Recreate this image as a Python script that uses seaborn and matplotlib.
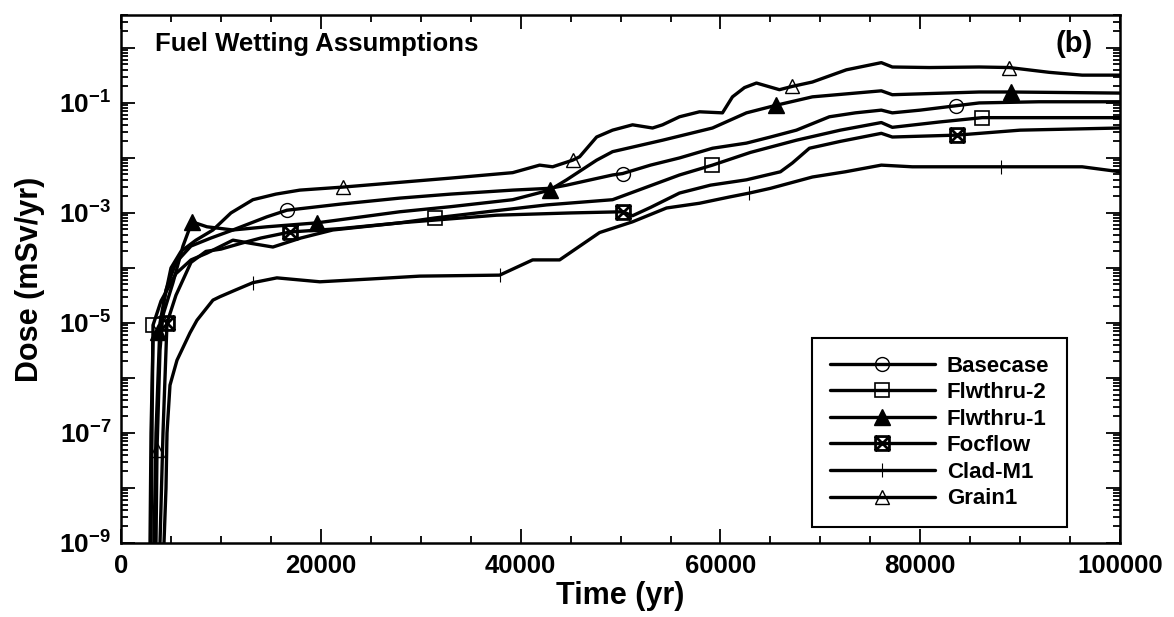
import numpy as np
import pandas as pd
import seaborn as sns
import matplotlib
matplotlib.use("Agg")
from matplotlib import pyplot as plt
from matplotlib.path import Path
from matplotlib.ticker import LogLocator, FuncFormatter, MultipleLocator, NullFormatter

# dose curves (time in yr, dose in mSv/yr)
base_x = [3300, 3500, 3900, 4500, 5500, 7000, 9000, 11200, 14600, 16600, 22000, 27900, 33000,
          39200, 42900, 44600, 47000, 49200, 50200, 53000, 55900, 59200, 62600, 65000, 67600,
          70900, 73500, 76100, 77200, 80000, 83600, 85900, 91900, 100000]
base_y = [1e-9, 1e-7, 1e-5, 4e-5, 1.26e-4, 2.5e-4, 3.5e-4, 4.9e-4, 8.5e-4, 1.12e-3, 1.45e-3,
          1.86e-3, 2.2e-3, 2.6e-3, 2.8e-3, 3.2e-3, 4.0e-3, 4.9e-3, 5.2e-3, 7.4e-3, 1e-2, 1.5e-2,
          1.86e-2, 2.4e-2, 3.2e-2, 5.6e-2, 6.6e-2, 7.4e-2, 6.6e-2, 7.4e-2, 8.9e-2, 0.1, 0.105, 0.105]
base_mk = [2, 9, 18, 30]

fl2_x = [3000, 3100, 3200, 4000, 5500, 7000, 8600, 11200, 13000, 15200, 18000, 21200, 27900,
         31400, 37000, 42600, 49200, 55900, 59200, 63000, 67600, 72000, 76100, 77200, 81900,
         86200, 100000]
fl2_y = [1e-9, 1e-7, 9.1e-6, 2.5e-5, 7.9e-5, 1.4e-4, 1.86e-4, 3.2e-4, 2.8e-4, 2.4e-4, 3.5e-4,
         4.9e-4, 6.6e-4, 8.1e-4, 1.07e-3, 1.4e-3, 1.74e-3, 4.9e-3, 7.4e-3, 1.26e-2, 2.1e-2,
         3.2e-2, 4.4e-2, 3.6e-2, 4.5e-2, 5.4e-2, 5.4e-2]
fl2_mk = [2, 13, 18, 25]

fl1_x = [2900, 3000, 3200, 3700, 4300, 5200, 6200, 7100, 8600, 11200, 14600, 19600, 27900,
         33000, 39200, 42900, 44600, 47600, 49200, 54200, 59200, 62600, 65600, 69200, 76100,
         77200, 85900, 89100, 100000]
fl1_y = [1e-9, 1e-7, 5e-6, 6.9e-6, 1.6e-5, 5.4e-5, 2.5e-4, 6.9e-4, 5.6e-4, 4.9e-4, 5.6e-4,
         6.6e-4, 1.05e-3, 1.3e-3, 1.74e-3, 2.6e-3, 4e-3, 9.1e-3, 1.3e-2, 2.1e-2, 3.5e-2, 6.6e-2,
         9.1e-2, 0.129, 0.166, 0.141, 0.158, 0.158, 0.151]
fl1_mk = [3, 7, 11, 15, 22, 27]

foc_x = [3900, 4200, 4600, 5500, 7000, 8500, 10000, 12000, 14000, 16900, 22000, 27900, 37600,
         45000, 50200, 51200, 53000, 55900, 59000, 62600, 66000, 67200, 68900, 72000, 76100,
         77200, 83700, 90000, 100000]
foc_y = [1e-9, 1e-7, 1e-5, 3.2e-5, 1.26e-4, 2e-4, 2.2e-4, 2.8e-4, 3.5e-4, 4.5e-4, 5.2e-4,
         6.6e-4, 9.1e-4, 1e-3, 1.05e-3, 8.9e-4, 1.26e-3, 2.3e-3, 3.2e-3, 4e-3, 5.6e-3, 8.1e-3,
         1.5e-2, 2e-2, 2.8e-2, 2.4e-2, 2.6e-2, 3.2e-2, 3.5e-2]
foc_mk = [2, 9, 14, 26]

clad_x = [4300, 4500, 4600, 4900, 5600, 6900, 7600, 9200, 9900, 11500, 13200, 15600, 19900,
          25000, 29900, 37900, 41200, 43900, 47900, 51200, 54600, 57900, 60900, 62900, 65000,
          69200, 72500, 76100, 79200, 88100, 96200, 100000]
clad_y = [1e-9, 1e-8, 1e-7, 7.4e-7, 2.1e-6, 6.6e-6, 1.12e-5, 2.6e-5, 3e-5, 4e-5, 5.4e-5,
          6.6e-5, 5.6e-5, 6.3e-5, 7.1e-5, 7.4e-5, 1.4e-4, 1.4e-4, 4.4e-4, 6.9e-4, 1.23e-3,
          1.5e-3, 1.95e-3, 2.3e-3, 2.8e-3, 4.5e-3, 5.6e-3, 7.4e-3, 6.9e-3, 6.9e-3, 6.9e-3, 5.6e-3]
clad_mk = [2, 10, 15, 23, 29]

grain_x = [3500, 3600, 3900, 4300, 5000, 6000, 7500, 9200, 11000, 13200, 15500, 17900, 22200,
           27900, 33000, 39200, 41900, 43200, 45200, 45900, 47600, 49200, 51200, 53200, 54200,
           55900, 57900, 60200, 61200, 62400, 63600, 65900, 67200, 69200, 72600, 76100, 77200,
           80900, 85900, 88900, 92900, 96200, 100000]
grain_y = [1e-9, 5e-8, 3.2e-6, 2.5e-5, 1e-4, 2e-4, 3.2e-4, 4.9e-4, 1e-3, 1.74e-3, 2.2e-3,
           2.6e-3, 2.95e-3, 3.6e-3, 4.3e-3, 5.4e-3, 7.4e-3, 6.9e-3, 9.1e-3, 1.05e-2, 2.4e-2,
           3.2e-2, 4.0e-2, 3.5e-2, 4.0e-2, 5.6e-2, 6.9e-2, 6.6e-2, 0.129, 0.19, 0.23, 0.174, 0.2,
           0.24, 0.40, 0.54, 0.45, 0.44, 0.45, 0.44, 0.36, 0.32, 0.32]
grain_mk = [1, 12, 18, 32, 39]

labels = ["Basecase", "Flwthru-2", "Flwthru-1", "Focflow", "Clad-M1", "Grain1"]

sns.set_style("ticks")
plt.rcParams["font.family"] = ["Liberation Sans", "DejaVu Sans"]
plt.rcParams["font.weight"] = "bold"
plt.rcParams["text.color"] = "black"
plt.rcParams["axes.labelcolor"] = "black"
plt.rcParams["xtick.color"] = "black"
plt.rcParams["ytick.color"] = "black"
plt.rcParams["mathtext.fontset"] = "custom"
plt.rcParams["mathtext.rm"] = "Liberation Sans:bold"
plt.rcParams["mathtext.bf"] = "Liberation Sans:bold"

# square with an X through it for Focflow
box_x = Path([(-1, -1), (1, -1), (1, 1), (-1, 1), (-1, -1), (-1, -1), (1, 1), (-1, 1), (1, -1)],
             [Path.MOVETO, Path.LINETO, Path.LINETO, Path.LINETO, Path.CLOSEPOLY,
              Path.MOVETO, Path.LINETO, Path.MOVETO, Path.LINETO])

series = [
    (base_x, base_y, base_mk, dict(marker="o", markersize=10, markerfacecolor="none", markeredgewidth=1.0)),
    (fl2_x, fl2_y, fl2_mk, dict(marker="s", markersize=10, markerfacecolor="none", markeredgewidth=1.2)),
    (fl1_x, fl1_y, fl1_mk, dict(marker="^", markersize=11, markerfacecolor="black", markeredgewidth=1.0)),
    (foc_x, foc_y, foc_mk, dict(marker=box_x, markersize=10, markerfacecolor="none", markeredgewidth=2.0)),
    (clad_x, clad_y, clad_mk, dict(marker="|", markersize=10, markeredgewidth=0.8)),
    (grain_x, grain_y, grain_mk, dict(marker="^", markersize=10, markerfacecolor="none", markeredgewidth=1.0)),
]

fig = plt.figure(figsize=(11.74, 6.17), dpi=100)
ax = fig.add_axes([0.1031, 0.12, 0.851, 0.856])
ax.set_yscale("log")

for (xs, ys, mk, style), lab in zip(series, labels):
    df = pd.DataFrame({"t": xs, "dose": ys})
    sns.lineplot(data=df, x="t", y="dose", ax=ax, color="black", linewidth=2.4,
                 markevery=mk, markeredgecolor="black", label=lab,
                 estimator=None, errorbar=None, sort=False, **style)

ax.set_xlim(0, 100000)
ax.set_ylim(1e-9, 4)

ax.xaxis.set_major_locator(MultipleLocator(20000))
ax.xaxis.set_minor_locator(MultipleLocator(5000))
ax.xaxis.set_major_formatter(FuncFormatter(lambda v, p: "%d" % v))

ax.yaxis.set_major_locator(LogLocator(base=10, numticks=30))
ax.yaxis.set_minor_locator(LogLocator(base=10, subs=np.arange(2, 10), numticks=30))
ax.yaxis.set_minor_formatter(NullFormatter())


def ylab(v, p):
    e = int(round(np.log10(v)))
    if e % 2 == 0:
        return ""
    return r"$\mathbf{10^{%d}}$" % e


ax.yaxis.set_major_formatter(FuncFormatter(ylab))

ax.tick_params(which="both", direction="in", top=True, right=True, width=1.3, color="black")
ax.tick_params(which="major", length=10)
ax.tick_params(which="minor", length=5)
ax.tick_params(axis="x", labelsize=18.5, pad=8)
ax.tick_params(axis="y", labelsize=19, pad=7)
for lbl in ax.get_xticklabels():
    lbl.set_fontweight("bold")
for sp in ax.spines.values():
    sp.set_linewidth(1.8)
    sp.set_color("black")

ax.set_xlabel("Time (yr)", fontsize=22, fontweight="bold", labelpad=2)
ax.set_ylabel("Dose (mSv/yr)", fontsize=22, fontweight="bold")
ax.yaxis.set_label_coords(-0.076, 0.5)

ax.text(0.034, 0.967, "Fuel Wetting Assumptions", transform=ax.transAxes, fontsize=18.5,
        fontweight="bold", ha="left", va="top")
ax.text(0.973, 0.972, "(b)", transform=ax.transAxes, fontsize=21,
        fontweight="bold", ha="right", va="top")

leg = ax.legend(loc="lower right", bbox_to_anchor=(0.947, 0.03), borderaxespad=0,
                fancybox=False, frameon=True, edgecolor="black", framealpha=1,
                prop={"size": 16, "weight": "bold"}, handlelength=4.7, handletextpad=0.55,
                labelspacing=0.25, borderpad=0.8)
leg.get_frame().set_linewidth(1.5)

fig.savefig("out.png", dpi=100)
